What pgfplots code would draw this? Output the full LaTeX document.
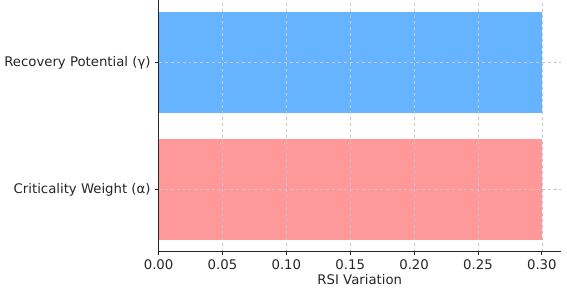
\documentclass[border=0pt]{standalone}
\usepackage{fontspec}
\setmainfont{DejaVu Sans}
\usepackage{pgfplots}
\pgfplotsset{compat=1.18}
\definecolor{barblue}{HTML}{66B3FF}
\definecolor{barpink}{HTML}{FF9999}
\definecolor{txt}{HTML}{262626}
\begin{document}
\fontsize{13}{15}\selectfont
\begin{tikzpicture}
\begin{axis}[
  width=402bp, height=251bp, scale only axis,
  xbar, bar width=0.8,
  xmin=0, xmax=0.315, ymin=-0.49, ymax=1.49,
  ytick={0,1}, yticklabels={Criticality Weight (α), Recovery Potential (γ)},
  xtick={0,0.05,0.10,0.15,0.20,0.25,0.30},
  xticklabel style={/pgf/number format/.cd, fixed, fixed zerofill, precision=2, assume math mode=true},
  axis x line*=bottom, axis y line*=left,
  axis line style={black!85, line width=0.8pt},
  xmajorgrids, ymajorgrids,
  grid style={dashed, black!22, line width=0.5pt},
  axis on top,
  tick align=outside, major tick length=3.5bp,
  tick style={black!85, line width=0.8pt},
  ticklabel style={text=txt, font=\fontsize{13.3}{15}\selectfont},
  xlabel={RSI Variation},
  xlabel style={text=txt, font=\fontsize{13.3}{15}\selectfont, yshift=4bp},
]
\addplot[fill=barpink, draw=none, bar shift=0pt] coordinates {(0.30,0)};
\addplot[fill=barblue, draw=none, bar shift=0pt] coordinates {(0.30,1)};
\end{axis}
\path (current axis.south east) ++(6bp,0) coordinate (pad);
\end{tikzpicture}
\end{document}
